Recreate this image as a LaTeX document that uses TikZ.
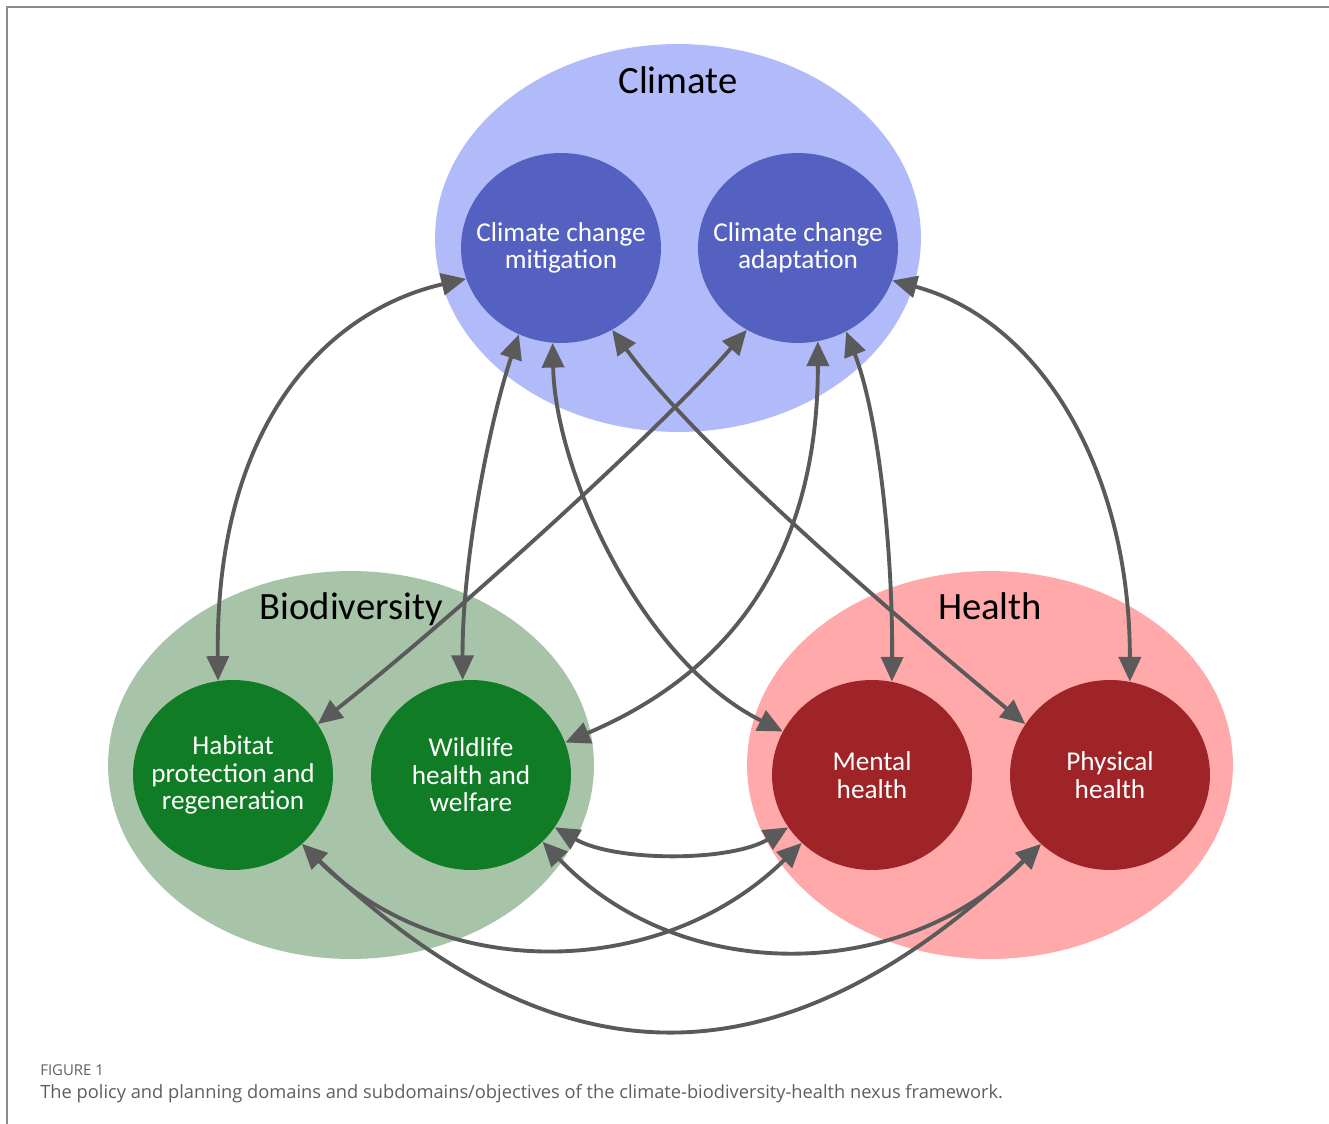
\documentclass[tikz,border=0pt]{standalone}
\usepackage{fontspec}
\usepackage{xcolor}
\usepackage{tikz}
\usetikzlibrary{arrows.meta,shapes.geometric}
\newfontfamily\calfont{Carlito}
\newfontfamily\capfont{Open Sans}
\definecolor{climatesoft}{HTML}{B2BBFA}
\definecolor{climatedark}{HTML}{5561C1}
\definecolor{biosoft}{HTML}{A7C4A9}
\definecolor{biodark}{HTML}{107C26}
\definecolor{healthsoft}{HTML}{FFA9AA}
\definecolor{healthdark}{HTML}{9E2428}
\definecolor{linkgray}{HTML}{5A5A5A}
\definecolor{framegray}{HTML}{8C8C8C}
\definecolor{captiongray}{HTML}{5E5E5E}
\tikzset{
  domainbox/.style={ellipse,draw=none,inner sep=0pt,minimum width=9.72cm,minimum height=7.76cm},
  domaintitle/.style={anchor=base,font=\calfont\fontsize{22}{24}\selectfont},
  subtext/.style={align=center,text=white,font=\calfont\fontsize{15.5}{15.6}\selectfont},
  subnode/.style={ellipse,draw=none,inner sep=0pt,minimum width=4cm,minimum height=3.8cm,
    label={[subtext]center:#1}},
  link/.style={draw=linkgray,line width=2.2pt,
    {Triangle[length=14pt,width=12.5pt]}-{Triangle[length=14pt,width=12.5pt]}}
}

\begin{document}
\begin{tikzpicture}[x=0.02cm,y=-0.02cm]
  \useasboundingbox (0,0) rectangle (1329,1124);
  \draw[framegray,line width=1.1pt] (7,1124) -- (7,7) -- (1329,7);

  % domains
  \node[domainbox,fill=climatesoft] (climate) at (678,238) {};
  \node[domainbox,fill=biosoft] (biodiv) at (351,765) {};
  \node[domainbox,fill=healthsoft] (health) at (990,765) {};
  \node[domaintitle] (climatetitle) at (678,94) {Climate};
  \node[domaintitle] (biodivtitle) at (351,620) {Biodiversity};
  \node[domaintitle] (healthtitle) at (990,620) {Health};

  % subdomains
  \node[subnode={Climate change\\mitigation},fill=climatedark] (mitig) at (561,248) {};
  \node[subnode={Climate change\\adaptation},fill=climatedark] (adapt) at (798,248) {};
  \node[subnode={Habitat\\protection and\\regeneration},fill=biodark] (habitat) at (233,775) {};
  \node[subnode={Wildlife\\health and\\welfare},fill=biodark] (wildlife) at (471,775) {};
  \node[subnode={Mental\\health},fill=healthdark] (mental) at (872,775) {};
  \node[subnode={Physical\\health},fill=healthdark] (physical) at (1110,775) {};

  % links
  \draw[link] (habitat.99) .. controls (215,420) and (330,310) .. (mitig.198);
  \draw[link] (wildlife.95) .. controls (462,560) and (490,420) .. (mitig.244);
  \draw[link] (mental.154) .. controls (640,660) and (555,470) .. (mitig.265);
  \draw[link] (physical.149) .. controls (900,620) and (700,450) .. (mitig.302);
  \draw[link] (habitat.31) .. controls (450,620) and (660,430) .. (adapt.238);
  \draw[link] (wildlife.19) .. controls (760,660) and (818,520) .. (adapt.282);
  \draw[link] (mental.78) .. controls (893,560) and (880,420) .. (adapt.300);
  \draw[link] (physical.78) .. controls (1130,470) and (1040,320) .. (adapt.341);
  \draw[link] (wildlife.328) .. controls (615,862) and (730,862) .. (mental.212);
  \draw[link] (habitat.315) .. controls (440,982) and (660,982) .. (mental.224);
  \draw[link] (wildlife.317) .. controls (680,985) and (900,985) .. (physical.225);
  \draw[link] (habitat.315) .. controls (560,1090) and (780,1090) .. (physical.225);

  % caption
  \node[anchor=base west,inner xsep=0pt,text=captiongray,font=\capfont\fontsize{8.5}{9}\selectfont] (figlabel) at (40,1075) {FIGURE 1};
  \node[anchor=base west,inner xsep=0pt,text=captiongray,font=\capfont\fontsize{10.4}{12}\selectfont] (figcaption) at (40,1098)
    {The policy and planning domains and subdomains/objectives of the climate-biodiversity-health nexus framework.};
\end{tikzpicture}
\end{document}
